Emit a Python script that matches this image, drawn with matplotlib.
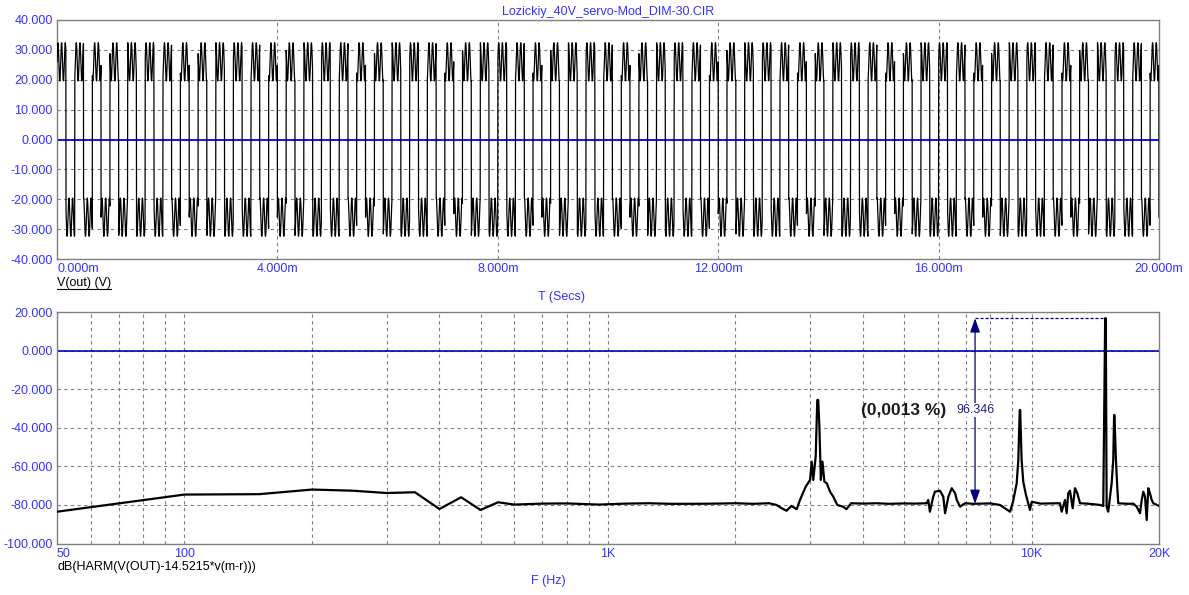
import numpy as np
import matplotlib
matplotlib.use('Agg')
import matplotlib.pyplot as plt
from matplotlib.lines import Line2D

plt.rcParams['font.family'] = ['Liberation Sans', 'DejaVu Sans']

# ── Transient trace V(out): square-ish 3.125 kHz with 15 kHz ripple ───────────
T_END_MS   = 20.0
STEP_MS    = 0.002
SQ_FREQ    = 3.125     # kHz
SQ_LEVEL   = 26.0      # V
RIP_FREQ   = 15.0      # kHz
RIP_AMP    = 6.4       # V

T_TICKS    = [0, 4, 8, 12, 16, 20]
V_TICKS    = [40, 30, 20, 10, 0, -10, -20, -30, -40]

# ── Harmonic spectrum ─────────────────────────────────────────────────────────
SPEC_F = [50, 100, 150, 200, 250, 300, 350, 400, 450, 500, 550, 600,
          700, 800, 950, 1100, 1250, 1400, 1600, 1800, 2000, 2200, 2400, 2500,
          2570, 2640, 2710, 2790, 2840, 2930, 3000, 3027, 3053, 3093, 3120, 3136,
          3156, 3181, 3209, 3243, 3285, 3344, 3404, 3478, 3591, 3656, 3751,
          4000, 4300, 4600, 5000, 5300, 5656, 5703, 5756, 5860, 5915, 6080,
          6190, 6250, 6363, 6481, 6600, 6662, 6782, 6969,
          7300, 7600, 8000, 8425, 8897, 9043, 9226, 9307, 9380, 9402, 9476, 9561,
          9703, 9917, 10008,
          10500, 11000, 11674, 11782, 11996, 12105, 12214, 12327, 12510, 12665,
          12827, 13017,
          13500, 14000, 14511, 14771, 14925, 14975, 15045, 15177, 15460, 15596,
          15670, 15694, 15826, 15939, 16026,
          16500, 17000, 17395, 17719, 18038, 18205, 18365, 18535, 18706, 18869,
          19041, 19218, 19385, 20000]
SPEC_DB = [-83.5, -74.6, -74.4, -72.0, -72.6, -73.8, -73.4, -82.1, -76.0, -82.6, -78.6, -79.8,
           -79.3, -79.2, -79.8, -79.3, -79.1, -79.4, -79.4, -79.3, -79.1, -79.4, -79.1, -80.0,
           -81.7, -83.0, -80.5, -82.2, -77.4, -70.5, -67.0, -57.5, -67.0, -54.9, -25.5, -25.5,
           -39.4, -67.0, -57.5, -67.9, -68.7, -73.1, -75.7, -80.0, -80.9, -82.2, -79.1,
           -79.3, -79.1, -79.4, -79.2, -79.3, -79.1, -77.4, -83.5, -75.7, -73.1, -72.6,
           -75.7, -84.3, -75.7, -71.3, -73.9, -77.4, -80.9, -79.1,
           -79.4, -79.3, -79.2, -80.0, -83.5, -78.3, -68.7, -56.6, -30.7, -30.7, -56.6, -67.9,
           -74.8, -82.6, -78.3,
           -79.3, -79.2, -79.1, -83.5, -77.4, -84.3, -73.9, -72.6, -81.7, -71.3,
           -73.9, -79.1,
           -79.3, -79.6, -80.0, -80.5, 16.9, 16.9, -80.9, -83.5, -68.7, -56.6,
           -33.3, -33.3, -56.6, -70.5, -79.1,
           -79.3, -79.4, -79.3, -80.9, -84.3, -77.4, -73.1, -75.7, -87.8, -71.3,
           -73.9, -77.4, -79.1, -80.5]

F_MAJOR     = [50, 100, 1000, 10000, 20000]
F_MAJOR_LBL = ['50', '100', '1K', '10K', '20K']
F_MINOR     = [60, 70, 80, 90, 200, 300, 400, 500, 600, 700, 800, 900,
               2000, 3000, 4000, 5000, 6000, 7000, 8000, 9000]
DB_TICKS    = [20, 0, -20, -40, -60, -80, -100]

# cursor measurement
CURSOR_F    = 7357
PEAK_F      = 14950
PEAK_DB     = 16.9
FLOOR_DB    = -79.446
DELTA_LBL   = '96.346'
THD_LBL     = '(0,0013 %)'
THD_F       = 5000

TICK_BLUE = '#3333ff'
GRID_GRAY = '#808080'
NAVY      = '#000080'

W, H = 1189, 595
fig = plt.figure(figsize=(W / 100, H / 100), dpi=100)
ax1 = fig.add_axes([57 / W, 1 - 259 / H, 1102 / W, 239 / H])
ax2 = fig.add_axes([57 / W, 1 - 543.5 / H, 1102 / W, 231.2 / H])


def style_axes(ax):
    for s in ax.spines.values():
        s.set_color(GRID_GRAY)
        s.set_linewidth(1.0)
    ax.tick_params(which='both', length=0, labelcolor=TICK_BLUE, labelsize=9, pad=3)
    ax.grid(True, which='both', color=GRID_GRAY, linestyle=(0, (3, 3)), linewidth=0.8)
    ax.set_axisbelow(True)


# ── top: transient ────────────────────────────────────────────────────────────
t = np.arange(0, T_END_MS + STEP_MS, STEP_MS)
sq = np.where(np.sin(2 * np.pi * SQ_FREQ * t) >= 0, SQ_LEVEL, -SQ_LEVEL)
v_out = sq + RIP_AMP * np.sin(2 * np.pi * RIP_FREQ * t)

style_axes(ax1)
ax1.axhline(0, color='#0000ff', linewidth=1.3, zorder=2)
ax1.plot(t, v_out, color='black', linewidth=0.9, zorder=3)
ax1.set_xlim(0, T_END_MS)
ax1.set_ylim(-40, 40)
ax1.set_xticks(T_TICKS)
ax1.set_xticklabels([f'{v:.3f}m' for v in T_TICKS])
ax1.get_xticklabels()[0].set_ha('left')
ax1.set_yticks(V_TICKS)
ax1.set_yticklabels([f'{v:.3f}' for v in V_TICKS])

# ── bottom: spectrum ──────────────────────────────────────────────────────────
style_axes(ax2)
ax2.set_xscale('log')
ax2.axhline(0, color='#0000c0', linewidth=1.2, zorder=2)
ax2.plot(SPEC_F, SPEC_DB, color='black', linewidth=1.6, zorder=3)
ax2.set_xlim(50, 20000)
ax2.set_ylim(-100, 20)
ax2.set_xticks(F_MAJOR)
ax2.set_xticklabels(F_MAJOR_LBL)
ax2.set_xticks(F_MINOR, minor=True)
ax2.set_xticklabels([''] * len(F_MINOR), minor=True)
ax2.get_xticklabels()[0].set_ha('left')
ax2.set_yticks(DB_TICKS)
ax2.set_yticklabels([f'{v:.3f}' for v in DB_TICKS])

# cursor arrow and labels
ax2.plot([CURSOR_F, PEAK_F], [PEAK_DB, PEAK_DB], color=NAVY,
         linestyle=(0, (2.5, 1.5)), linewidth=0.9, zorder=4)
ax2.annotate('', xy=(CURSOR_F, PEAK_DB), xytext=(CURSOR_F, FLOOR_DB),
             arrowprops=dict(arrowstyle='<|-|>,head_length=0.85,head_width=0.3',
                             color=NAVY, lw=0.9, shrinkA=0, shrinkB=0,
                             mutation_scale=10), zorder=5)
ax2.text(CURSOR_F, -30.7, DELTA_LBL, ha='center', va='center', color='#1c1c8c',
         fontsize=9, zorder=6,
         bbox=dict(facecolor='white', edgecolor='none', pad=0.5))
ax2.text(THD_F, -31, THD_LBL, ha='center', va='center', color='#1a1a1a',
         fontsize=12.5, fontweight='bold', zorder=6)

# ── figure texts ──────────────────────────────────────────────────────────────
fig.text(608 / W, 1 - 12 / H, 'Lozickiy_40V_servo-Mod_DIM-30.CIR',
         ha='center', va='center', color=TICK_BLUE, fontsize=9)
vlab = fig.text(57 / W, 1 - 283 / H, 'V(out) (V)', ha='left', va='center',
                color='black', fontsize=9)
fig.text(562 / W, 1 - 297 / H, 'T (Secs)', ha='center', va='center',
         color=TICK_BLUE, fontsize=9)
fig.text(57 / W, 1 - 567 / H, 'dB(HARM(V(OUT)-14.5215*v(m-r)))', ha='left',
         va='center', color='black', fontsize=9)
fig.text(548 / W, 1 - 581 / H, 'F (Hz)', ha='center', va='center',
         color=TICK_BLUE, fontsize=9)

# underline for the trace name
fig.canvas.draw()
bb = vlab.get_window_extent()
uy = 1 - 288.5 / H
fig.add_artist(Line2D([bb.x0 / W, bb.x1 / W], [uy, uy], color='black', linewidth=0.8))

fig.savefig('out.png', dpi=100)
